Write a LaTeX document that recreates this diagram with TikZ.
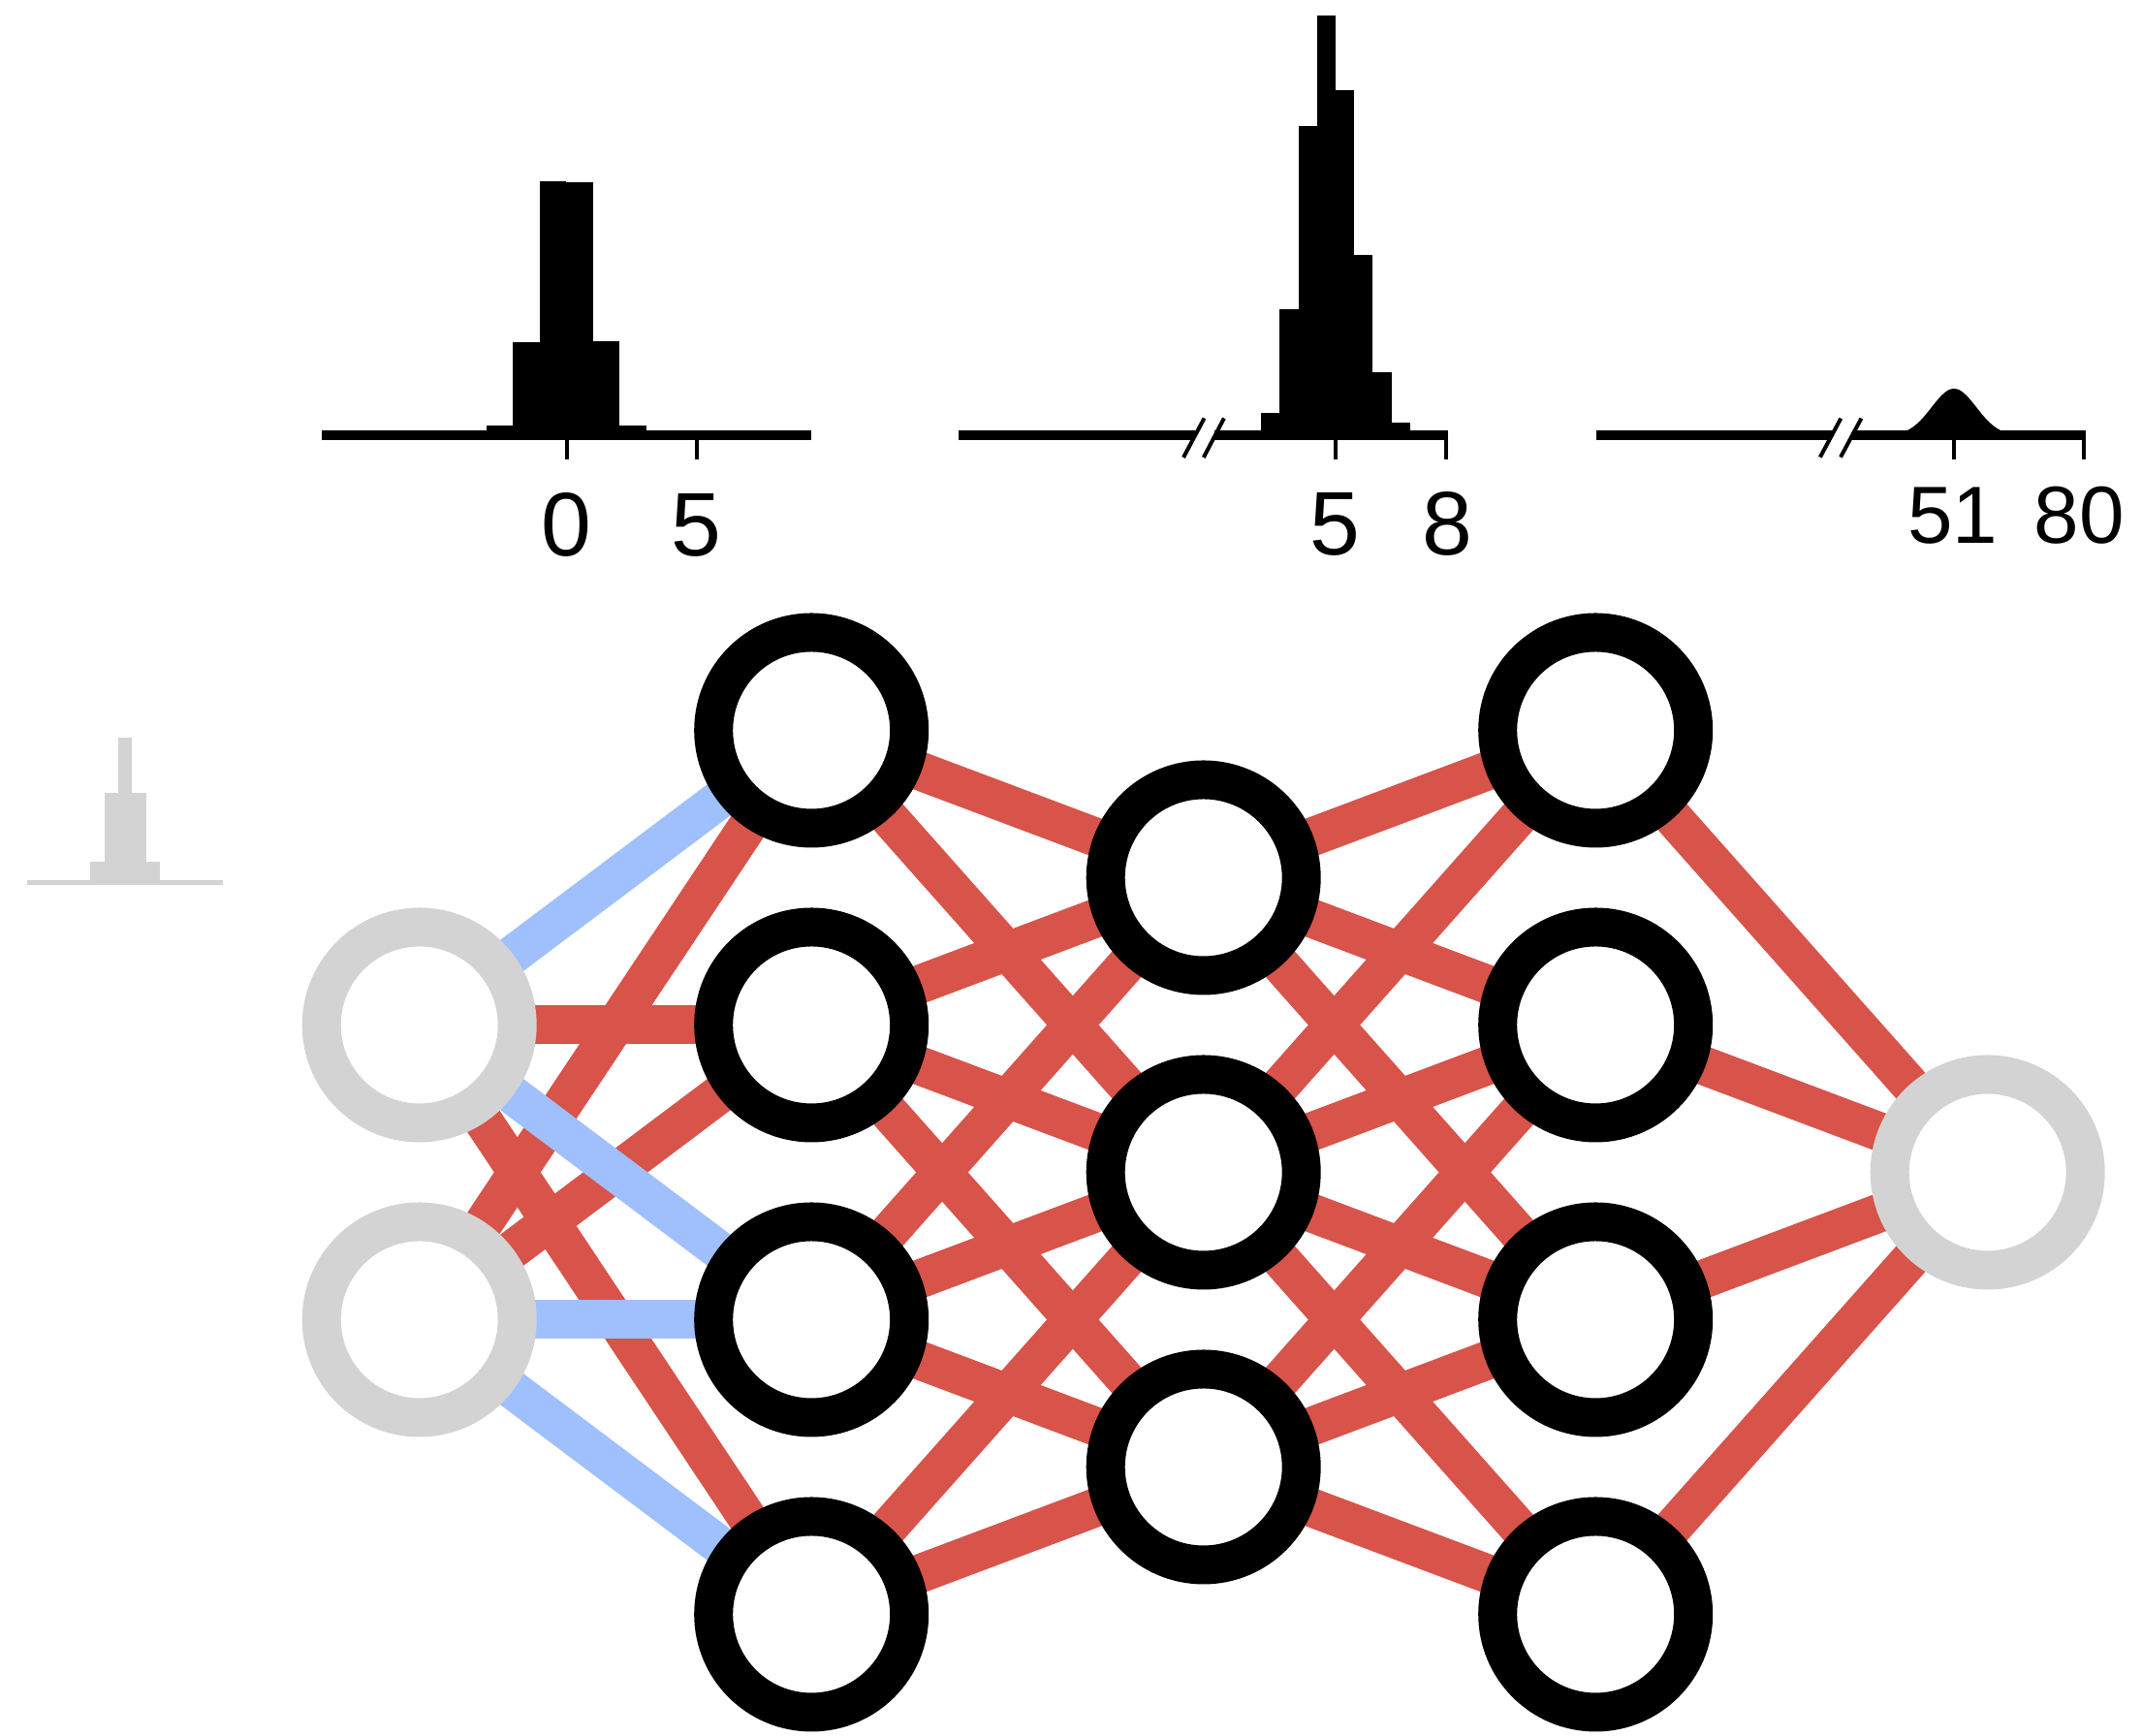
\documentclass[tikz,border=0pt]{standalone}
\usepackage{fontspec}
\setmainfont{Liberation Sans}
\usepackage{tikz}
\usetikzlibrary{backgrounds}
\definecolor{wred}{HTML}{D8534A}
\definecolor{wblue}{HTML}{A0BFFD}
\definecolor{unitgray}{HTML}{D3D3D3}

\begin{document}
\begin{tikzpicture}[
    neuron/.style={circle, draw=black, fill=white, line width=0.4cm, minimum size=2.02cm, inner sep=0pt},
    ionode/.style={neuron, draw=unitgray},
    redw/.style={draw=wred, line width=0.4cm},
    bluew/.style={draw=wblue, line width=0.4cm},
    axisline/.style={line width=0.1cm},
    tickmark/.style={line width=0.04cm},
    ticklabel/.style={font=\fontsize{26.5}{30}\selectfont, inner sep=0pt},
    smalllabel/.style={font=\fontsize{23.8}{27}\selectfont, inner sep=0pt}
]
\useasboundingbox (0,0) rectangle (22.1,17.91);

% Prior histogram (left)
\fill[unitgray] (0.933,8.805) rectangle (1.077,9.02);
\fill[unitgray] (1.077,8.805) rectangle (1.223,9.727);
\fill[unitgray] (1.223,8.805) rectangle (1.363,10.303);
\fill[unitgray] (1.363,8.805) rectangle (1.51,9.727);
\fill[unitgray] (1.51,8.805) rectangle (1.653,9.02);
\draw[unitgray, line width=0.045cm] (0.283,8.805) -- (2.30,8.805);

% Histogram 1
\fill (5.02,13.415) rectangle (5.294,13.517);
\fill (5.294,13.415) rectangle (5.571,14.383);
\fill (5.571,13.415) rectangle (5.838,16.043);
\fill (5.838,13.415) rectangle (6.115,16.033);
\fill (6.115,13.415) rectangle (6.392,14.39);
\fill (6.392,13.415) rectangle (6.669,13.517);
\draw[axisline] (3.316,13.415) -- (8.37,13.415);
\draw[tickmark] (5.845,13.415) -- (5.845,13.17);
\draw[tickmark] (7.188,13.415) -- (7.188,13.17);
\node[ticklabel] (lab0) at (5.84,12.493) {0};
\node[ticklabel] (lab5a) at (7.188,12.493) {5};

% Histogram 2
\fill (13.014,13.415) rectangle (13.204,13.651);
\fill (13.204,13.415) rectangle (13.396,14.717);
\fill (13.396,13.415) rectangle (13.586,16.606);
\fill (13.586,13.415) rectangle (13.775,17.754);
\fill (13.775,13.415) rectangle (13.971,16.977);
\fill (13.971,13.415) rectangle (14.164,15.284);
\fill (14.164,13.415) rectangle (14.357,14.066);
\fill (14.357,13.415) rectangle (14.55,13.551);
\draw[axisline] (9.889,13.415) -- (12.327,13.415);
\draw[axisline] (12.53,13.415) -- (14.94,13.415);
\draw[tickmark] (12.425,13.595) -- (12.21,13.19);
\draw[tickmark] (12.629,13.595) -- (12.418,13.19);
\draw[tickmark] (13.779,13.415) -- (13.779,13.17);
\draw[tickmark] (14.92,13.46) -- (14.92,13.17);
\node[ticklabel] (lab5b) at (13.775,12.503) {5};
\node[ticklabel] (lab8) at (14.93,12.503) {8};

% Histogram 3 (narrow bump around 51)
\begin{scope}[shift={(20.16,13.415)}]
\fill (-0.7,0) -- plot[smooth] coordinates {(-0.7,0.005) (-0.6,0.016) (-0.55,0.028) (-0.5,0.046)
  (-0.45,0.072) (-0.4,0.107) (-0.35,0.152) (-0.3,0.207) (-0.25,0.269) (-0.2,0.332) (-0.15,0.392)
  (-0.1,0.441) (-0.05,0.474) (0,0.485) (0.05,0.474) (0.1,0.441) (0.15,0.392) (0.2,0.332)
  (0.25,0.269) (0.3,0.207) (0.35,0.152) (0.4,0.107) (0.45,0.072) (0.5,0.046) (0.55,0.028)
  (0.6,0.016) (0.7,0.005)} -- (0.7,0) -- cycle;
\end{scope}
\draw[axisline] (16.466,13.415) -- (18.895,13.415);
\draw[axisline] (19.106,13.415) -- (21.516,13.415);
\draw[tickmark] (18.993,13.593) -- (18.779,13.193);
\draw[tickmark] (19.204,13.593) -- (18.99,13.193);
\draw[tickmark] (20.16,13.415) -- (20.16,13.17);
\draw[tickmark] (21.495,13.46) -- (21.495,13.17);
\node[smalllabel] (lab51) at (20.148,12.593) {51};
\node[smalllabel] (lab80) at (21.45,12.593) {80};

% Network units
\node[ionode] (in1) at (4.327,7.335) {};
\node[ionode] (in2) at (4.327,4.295) {};

\node[neuron] (h11) at (8.372,10.375) {};
\node[neuron] (h12) at (8.372,7.335) {};
\node[neuron] (h13) at (8.372,4.295) {};
\node[neuron] (h14) at (8.372,1.255) {};

\node[neuron] (h21) at (12.417,8.855) {};
\node[neuron] (h22) at (12.417,5.815) {};
\node[neuron] (h23) at (12.417,2.775) {};

\node[neuron] (h31) at (16.462,10.375) {};
\node[neuron] (h32) at (16.462,7.335) {};
\node[neuron] (h33) at (16.462,4.295) {};
\node[neuron] (h34) at (16.462,1.255) {};

\node[ionode] (out) at (20.507,5.815) {};

% Weights (behind the units)
\begin{scope}[on background layer]
% input -> layer 1
\draw[redw] (in1.center) -- (h12.center);
\draw[redw] (in1.center) -- (h14.center);
\draw[redw] (in2.center) -- (h11.center);
\draw[redw] (in2.center) -- (h12.center);
% layer 1 -> layer 2
\draw[redw] (h11.center) -- (h21.center);
\draw[redw] (h11.center) -- (h22.center);
\draw[redw] (h12.center) -- (h21.center);
\draw[redw] (h12.center) -- (h22.center);
\draw[redw] (h12.center) -- (h23.center);
\draw[redw] (h13.center) -- (h21.center);
\draw[redw] (h13.center) -- (h22.center);
\draw[redw] (h13.center) -- (h23.center);
\draw[redw] (h14.center) -- (h22.center);
\draw[redw] (h14.center) -- (h23.center);
% layer 2 -> layer 3
\draw[redw] (h21.center) -- (h31.center);
\draw[redw] (h21.center) -- (h32.center);
\draw[redw] (h21.center) -- (h33.center);
\draw[redw] (h22.center) -- (h31.center);
\draw[redw] (h22.center) -- (h32.center);
\draw[redw] (h22.center) -- (h33.center);
\draw[redw] (h22.center) -- (h34.center);
\draw[redw] (h23.center) -- (h32.center);
\draw[redw] (h23.center) -- (h33.center);
\draw[redw] (h23.center) -- (h34.center);
% layer 3 -> output
\draw[redw] (h31.center) -- (out.center);
\draw[redw] (h32.center) -- (out.center);
\draw[redw] (h33.center) -- (out.center);
\draw[redw] (h34.center) -- (out.center);
% negative weights on top
\draw[bluew] (in1.center) -- (h11.center);
\draw[bluew] (in1.center) -- (h13.center);
\draw[bluew] (in2.center) -- (h13.center);
\draw[bluew] (in2.center) -- (h14.center);
\end{scope}

\end{tikzpicture}
\end{document}
